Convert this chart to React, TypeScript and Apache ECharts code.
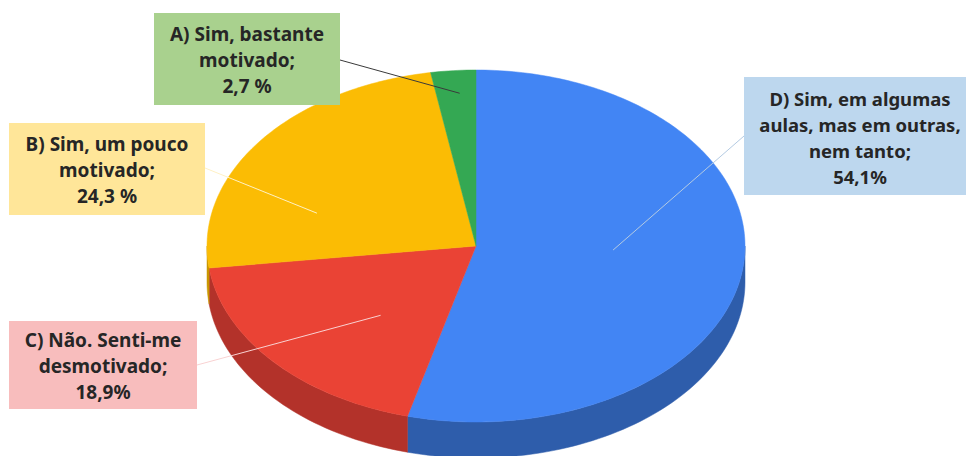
import React, { useEffect, useRef } from "react";
import * as echarts from "echarts";

// Data (clockwise from 12 o'clock)
const categories = [
  "D) Sim, em algumas\naulas, mas em outras,\nnem tanto;",
  "C) Não. Senti-me\ndesmotivado;",
  "B) Sim, um pouco\nmotivado;",
  "A) Sim, bastante\nmotivado;",
];
const values = [54.1, 18.9, 24.3, 2.7];
const percentSeparators = ["", "", " ", " "];

// Styles
const topColors = ["#4285F4", "#EA4335", "#FBBC04", "#34A853"];
const sideColors = ["#2E5DAB", "#B3322A", "#C99600", "#24803E"];
const boxColors = ["#BDD7EE", "#F8BDBD", "#FFE699", "#A9D18E"];
const lineColors = ["#B4CBE3", "#F9D2D2", "#FFF1C4", "#3A3A3A"];

// Layout
const CX = 476;
const CY = 246;
const RX = 269;
const RY = 176;
const DEPTH = 36;
const boxes = [
  { x: 744, y: 77, w: 224, h: 118, ax: 744, ay: 136 },
  { x: 9, y: 321, w: 188, h: 88, ax: 197, ay: 365 },
  { x: 9, y: 123, w: 196, h: 92, ax: 205, ay: 168 },
  { x: 154, y: 13, w: 186, h: 92, ax: 340, ay: 60 },
];
// leader-line inner ends: [angle clockwise from top (deg), radius fraction]
const innerEnds = [
  [92.6, 0.51],
  [222, 0.53],
  [287.5, 0.62],
  [356, 0.87],
];
const fontSizes = [18.5, 19, 19, 19];

const fmt = (v: number, sep: string) => v.toFixed(1).replace(".", ",") + sep + "%";

const pt = (t: number, dy = 0, f = 1) => [CX + RX * f * Math.sin(t), CY - RY * f * Math.cos(t) + dy];

export default function App() {
  const ref = useRef<HTMLDivElement>(null);
  useEffect(() => {
    if (!ref.current) return;
    const chart = echarts.init(ref.current, undefined, { renderer: "svg" });
    const total = values.reduce((a, b) => a + b, 0);

    const renderItem = (params: any, api: any) => {
      const i = params.dataIndex;
      let start = 0;
      for (let k = 0; k < i; k++) start += values[k];
      const v = api.value(0);
      const a0 = (start / total) * Math.PI * 2;
      const a1 = ((start + v) / total) * Math.PI * 2;
      const children: any[] = [];
      const s0 = Math.max(a0, Math.PI / 2);
      const s1 = Math.min(a1, (Math.PI * 3) / 2);
      if (s1 > s0) {
        const n = Math.max(4, Math.ceil(((s1 - s0) / (Math.PI * 2)) * 240));
        const pts: number[][] = [];
        for (let j = 0; j <= n; j++) pts.push(pt(s0 + ((s1 - s0) * j) / n));
        for (let j = n; j >= 0; j--) pts.push(pt(s0 + ((s1 - s0) * j) / n, DEPTH));
        children.push({
          type: "polygon",
          shape: { points: pts },
          style: { fill: sideColors[i], stroke: sideColors[i], lineWidth: 0.5 },
        });
      }
      const n2 = Math.max(4, Math.ceil(((a1 - a0) / (Math.PI * 2)) * 360));
      const top: number[][] = [[CX, CY]];
      for (let j = 0; j <= n2; j++) top.push(pt(a0 + ((a1 - a0) * j) / n2));
      children.push({
        type: "polygon",
        shape: { points: top },
        style: { fill: topColors[i], stroke: topColors[i], lineWidth: 0.5 },
      });
      return { type: "group", children };
    };

    const graphics: any[] = [];
    boxes.forEach((b, i) => {
      const [ex, ey] = pt((innerEnds[i][0] * Math.PI) / 180, 0, innerEnds[i][1]);
      graphics.push({
        type: "line",
        z: 100,
        shape: { x1: b.ax, y1: b.ay, x2: ex, y2: ey },
        style: { stroke: lineColors[i], lineWidth: 1 },
      });
      graphics.push({
        type: "rect",
        z: 101,
        shape: { x: b.x, y: b.y, width: b.w, height: b.h },
        style: { fill: boxColors[i] },
      });
      graphics.push({
        type: "text",
        z: 102,
        x: b.x + b.w / 2 + (i === 0 ? 4 : 0),
        y: b.y + b.h / 2 + 1,
        style: {
          text: categories[i] + "\n" + fmt(values[i], percentSeparators[i]),
          align: "center",
          verticalAlign: "middle",
          fontFamily: "Noto Sans",
          fontWeight: "bold",
          fontSize: fontSizes[i],
          lineHeight: 26,
          fill: "#262626",
        },
      });
    });

    chart.setOption({
      animation: false,
      backgroundColor: "#ffffff",
      series: [
        {
          type: "custom",
          coordinateSystem: "none",
          silent: true,
          renderItem,
          data: values.map((v, i) => ({ value: [v], name: categories[i] })),
        },
      ],
      graphic: graphics,
    });
    return () => chart.dispose();
  }, []);
  return <div ref={ref} style={{ position: "fixed", left: 0, top: 0, width: 966, height: 456 }} />;
}
